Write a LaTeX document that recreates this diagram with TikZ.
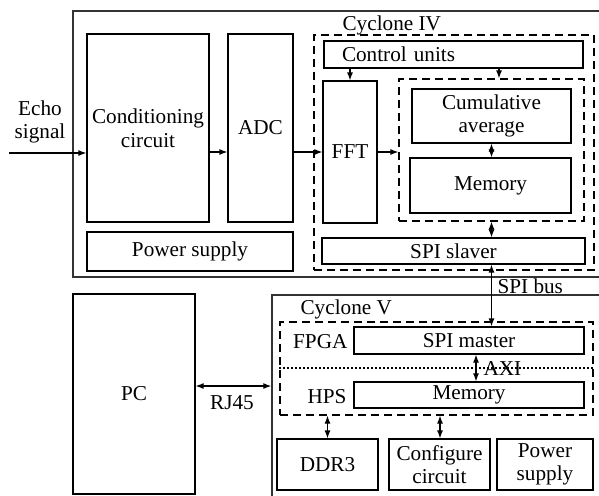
\documentclass[tikz,border=0pt]{standalone}
\usepackage{fontspec}
\setmainfont{Liberation Serif}
\usetikzlibrary{arrows.meta,calc}
\tikzset{>={Latex[length=4pt,width=3pt]}}
\tikzset{blk/.style 2 args={draw,line width=0.6pt,minimum width=#1*0.5pt,minimum height=#2*0.5pt,inner sep=0pt,align=center}}
\tikzset{grp/.style 2 args={blk={#1}{#2},dash pattern=on 4pt off 2.5pt}}
\tikzset{outer/.style 2 args={blk={#1}{#2},line width=0.7pt,draw=black!80}}

\begin{document}
\begin{tikzpicture}[x=0.5pt,y=-0.5pt,font=\fontsize{10.6}{11.8}\selectfont,line width=0.6pt]
  \useasboundingbox (0,0) rectangle (599,495);
  \clip (0,0) rectangle (599,495);

  % Blocks
  \node[outer={547}{266}] (board) at (346.5,144) {};
  \node[blk={122}{188}] (cond) at (148,128) {Conditioning\\circuit};
  \node[blk={65}{188}] (adc) at (260.5,128) {ADC};
  \node[blk={206}{39}] (pwra) at (190,251.5) {Power supply};
  \node[grp={280}{235}] (cyc4) at (454,152.5) {};
  \node[blk={259}{27},inner xsep=9pt,text width=111.5pt,align=left] (ctrl) at (453.5,54.5) {Control units};
  \node[blk={54}{142}] (fft) at (350,152) {FFT};
  \node[grp={185}{142}] (acc) at (491.5,150) {};
  \node[blk={159}{54}] (cum) at (491.5,116) {Cumulative\\average};
  \node[blk={161}{55}] (mema) at (490.5,185.5) {Memory};
  \node[blk={263}{26}] (spis) at (453.5,251) {SPI slaver};

  \node[blk={122}{200}] (pc) at (134,394) {PC};
  \node[outer={340}{220}] (cyc5) at (442,405) {};
  \node[grp={313}{93}] (soc) at (436.5,368.5) {};
  \node[blk={230}{27}] (spim) at (469,340.5) {SPI master};
  \node[blk={230}{26}] (memb) at (469,395) {Memory};
  \node[blk={101}{51}] (ddr) at (327.5,464.5) {DDR3};
  \node[blk={101}{51}] (cfg) at (439.5,464.5) {Configure\\circuit};
  \node[blk={96}{51}] (pwrb) at (545,464.5) {Power\\supply};

  % Lines
  \coordinate (echo) at (9,153);
  \draw[->] (echo) -- (echo -| cond.west);
  \draw[->] (cond.east |- fft) -- (adc.west |- fft);
  \draw[->] (adc.east |- fft) -- (fft.west);
  \draw[->] (fft.east) -- (acc.west |- fft);
  \draw[->] (ctrl.south -| fft.north) -- (fft.north);
  \draw[->] (ctrl.south -| 499,0) -- (acc.north -| 499,0);
  \draw[<->] (cum.south) -- (mema.north -| cum.south);
  \draw[<->] (acc.south -| cum.south) -- (spis.north -| cum.south);
  \draw[<->] (spis.south -| cum.south) -- (spim.north -| cum.south);
  \draw[<->] (spim.south -| 476,0) -- (memb.north -| 476,0);
  \draw[dash pattern=on 1pt off 1pt] (soc.west |- 0,368) -- (soc.east |- 0,368);
  \draw[<->] (soc.south -| ddr.north) -- (ddr.north);
  \draw[<->] (soc.south -| 440,0) -- (cfg.north -| 440,0);
  \draw[<->] (pc.east |- 0,386) -- (cyc5.west |- 0,386);

  % Labels
  \node[align=center] (echolbl) at (40,122) {Echo\\signal};
  \node[anchor=base west,inner sep=0pt] (cyc4lbl) at (342,30) {Cyclone IV};
  \node[anchor=base west,inner sep=0pt] (cyc5lbl) at (300,314) {Cyclone V};
  \node[anchor=base east,inner sep=0pt] (fpgalbl) at (348,348) {FPGA};
  \node[anchor=base east,inner sep=0pt] (hpslbl) at (347,403) {HPS};
  \node[anchor=base west,inner sep=0pt] (axilbl) at (483,375) {AXI};
  \node[anchor=base west,inner sep=0pt] (buslbl) at (497,293) {SPI bus};
  \node[anchor=base,inner sep=0pt] (rjlbl) at (232,409) {RJ45};
\end{tikzpicture}
\end{document}
